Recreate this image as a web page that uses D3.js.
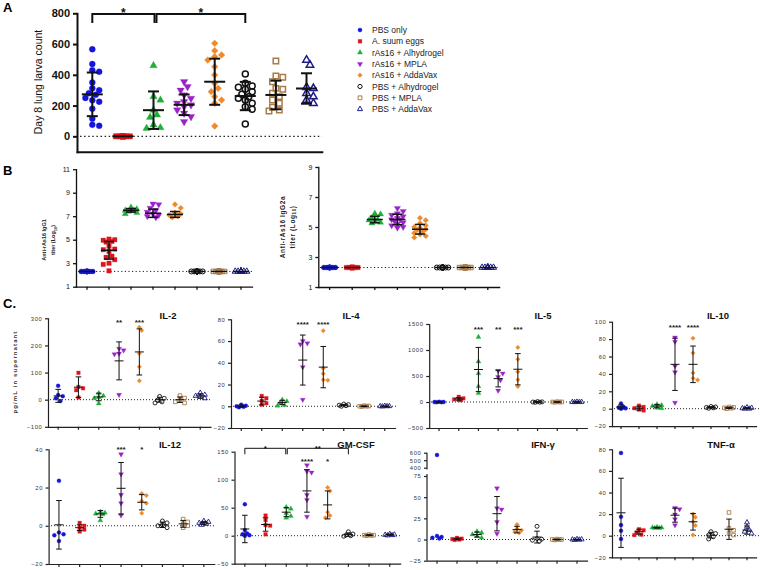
<!DOCTYPE html>
<html><head><meta charset="utf-8">
<script src="https://cdn.jsdelivr.net/npm/d3@7"></script>
<style>body{margin:0;background:#fff} svg{display:block}</style>
</head><body><svg id="c" width="760" height="570"></svg>
<script>
const FONT = "'Liberation Sans', Arial, sans-serif";
const groups = ["PBS only","A. suum eggs","rAs16 + Alhydrogel","rAs16 + MPLA","rAs16 + AddaVax","PBS + Alhydrogel","PBS + MPLA","PBS + AddaVax"];
const colors = ["#1414dc","#e0141c","#1fae3a","#9a22c8","#f0892a","#111111","#a87c48","#1c1c84"];
const shapes = ["circle","square","triangle","triangleDown","diamond","circle","square","triangle"];
const filled = [true,true,true,true,true,false,false,false];

// Panel A: Day 8 lung larva count
const larvaCount = [
  [566,470,430,420,350,312,300,280,270,250,235,225,180,115,75,68],
  [0,0,0,0,0,0,0,0,0,0,0,0,0,0,0],
  [460,258,236,171,139,124,74,56,52],
  [355,323,300,269,247,225,215,204,193,171,150,128,95],
  [605,557,529,518,496,453,399,345,312,290,258,236,215,67],
  [405,345,327,319,306,290,273,258,247,236,215,193,176,80],
  [490,392,384,355,312,306,280,258,236,215,189,171,165],
  [496,464,319,312,280,258,236,215]
];
const larvaMean = [273,0,170,205,355,262,269,311];
const larvaSD = [142,0,122,67,150,92,93,99];
const larvaTicks = [0,200,400,600,800];

// Panel B: antibody titers (log10)
const igg1Titer = [
  [2.3,2.3,2.3,2.3,2.3,2.3,2.3,2.3,2.3,2.3,2.3,2.3,2.3,2.3,2.3],
  [5.05,5.0,4.95,4.85,4.8,4.45,4.2,4.15,4.0,3.6,3.5,3.3,3.0,2.9,2.35],
  [7.75,7.6,7.5,7.5,7.45,7.4,7.3,7.2],
  [8.05,8.0,7.7,7.5,7.35,7.2,7.1,7.0,6.9],
  [8.0,7.7,7.3,7.2,7.1,7.0,6.9],
  [2.3,2.3,2.3,2.3,2.3,2.3,2.3,2.3,2.3,2.3,2.3,2.3,2.3,2.3,2.3],
  [2.3,2.3,2.3,2.3,2.3,2.3,2.3,2.3,2.3,2.3,2.3,2.3,2.3,2.3,2.3],
  [2.3,2.3,2.3,2.3,2.3,2.3,2.3,2.3,2.3,2.3,2.3,2.3,2.3,2.3,2.3]
];
const igg1Mean = [2.3,4.1,7.5,7.25,7.15,2.3,2.3,2.3];
const igg1SD = [0,0.75,0.15,0.35,0.25,0,0,0];
const igg1Ticks = [1,3,5,7,9,11];

const igg2aTiter = [
  [2.3,2.3,2.3,2.3,2.3,2.3,2.3,2.3,2.3,2.3,2.3,2.3,2.3,2.3,2.3],
  [2.3,2.3,2.3,2.3,2.3,2.3,2.3,2.3,2.3,2.3,2.3,2.3,2.3,2.3,2.3],
  [5.9,5.85,5.6,5.5,5.45,5.4,5.3,5.25],
  [6.25,6.05,5.9,5.8,5.7,5.6,5.5,5.5,5.4,5.3,5.2,5.1,5.0,4.95],
  [5.6,5.45,5.25,5.1,5.0,4.95,4.85,4.8,4.7,4.6,4.5,4.4,4.3],
  [2.3,2.3,2.3,2.3,2.3,2.3,2.3,2.3,2.3,2.3,2.3,2.3,2.3,2.3,2.3],
  [2.3,2.3,2.3,2.3,2.3,2.3,2.3,2.3,2.3,2.3,2.3,2.3,2.3,2.3,2.3],
  [2.3,2.3,2.3,2.3,2.3,2.3,2.3,2.3,2.3,2.3,2.3,2.3,2.3,2.3,2.3]
];
const igg2aMean = [2.3,2.3,5.5,5.5,4.85,2.3,2.3,2.3];
const igg2aSD = [0,0,0.22,0.35,0.32,0,0,0];
const igg2aTicks = [1,3,5,7,9];

// Panel C: cytokines (pg/mL)
const il2 = [[51,17,13,5,-5],[99,47,42,35,8],[24,14,9,5,-14],[188,182,170,168,18],[267,255,170,121,70],[12,5,-2,-8,-12],[15,6,-2,-8,-12],[25,18,14,10,5]];
const il2Mean = [14,46,10,143,176,0,0,14];
const il2SD = [24,38,14,70,85,9,10,8];
const il4 = [[1.5,0.5,0,-0.5,-1],[9.5,7.4,5,2.8,1.5],[6,4.5,3,1,0.5],[60,58,57,36,6],[69.5,35,30,24.3,24],[2,1.5,1,0.5,0],[0.5,0.2,0,-0.3,0],[0.3,0.1,0,-0.2,0]];
const il4Mean = [0.1,4.75,3.5,42.5,36,1,0,0];
const il4SD = [1,3.5,2,23,19,0.7,0.3,0.2];
const il5 = [[5,2,0,-3,-5],[100,70,50,40,35],[1250,780,550,300,170],[600,550,480,420,220],[1050,820,580,430,300],[8,3,0,-3,-6],[6,2,0,-2,-5],[4,2,0,-2,-4]];
const il5Mean = [0,60,625,450,630,0,0,0];
const il5SD = [4,25,425,160,300,5,4,3];
const il10 = [[6,2.3,1.5,0.4,0],[3.5,2,0.5,-1,-2],[5,4,3,1,0.5],[82,77,49,42,7],[81,64,41,35,33],[2.5,2,1.5,1,0.5],[2,1.5,1,0.5,0],[1.5,1,0.5,0,0]];
const il10Mean = [2,0.6,3,51,51,1.5,1,0.6];
const il10SD = [2.4,2.2,1.9,30,21,0.8,0.8,0.6];
const il12 = [[23.5,-3.5,-4.5,-5,-8],[1.5,0,-1,-2,-3],[7.2,6.8,6.3,6,2.8],[37.4,27,16.2,11.8,5.5],[16.9,15.8,13,11.8,6.6],[2.5,1.5,0.5,0,-1],[3.5,2,1,0,-1],[2.5,2,1.5,1,0.5]];
const il12Mean = [0.5,-1,6.2,19.6,12.3,0.5,1,1.5];
const il12SD = [12.7,1.5,1.8,13.5,4,1.4,1.8,0.8];
const gmcsf = [[56,10,4,2.4,1,0],[36,28,19,18,2.4],[51,48,40,35,32],[126,115,113,73,64,34],[86,80,42,36,32],[7,3,1,0,-1],[2,1,1,0.5,0],[3,2,1.5,1,0.5]];
const gmcsfMean = [12,20,42,80,55,2,1,2];
const gmcsfSD = [24.5,12,8,38,25,3,0.8,1];
const ifng = [[570,4.3,3,2,1.2],[2,1,0.5,0,-0.5],[9.5,8,6,4,2],[60.5,37,35.5,20.7,7],[17.6,13,11,9,8],[15.6,1.2,0.4,-0.8,-2],[0.5,0,0,0,-0.5],[0.5,0.2,0,-0.2,-0.5]];
const ifngMean = [null,0.6,5.9,30.5,11.7,2.9,0,0];
const ifngSD = [null,1,3,20.3,3.9,7,0.4,0.4];
const tnfa = [[76.6,17.5,9.8,4.6,-3],[6,5,3,1,0.6],[8,7.5,7.5,7,7],[25.8,24.6,19.7,15.4,9.8],[20,17,13,9.5,0.6],[3.7,2,0.6,-1,-3],[21.5,6.8,5,2,0.6],[12.3,8.3,5.2,3.7,2]];
const tnfaMean = [21.2,3.7,7.4,19,12.9,0.5,6,5.2];
const tnfaSD = [32,2.3,0.4,6.5,7.7,2.6,9.4,3.8];

const svg = d3.select("#c");

function symPath(shape, s) {
  const m = {
    circle: [d3.symbolCircle, Math.PI*s*s],
    square: [d3.symbolSquare, (1.8*s)**2],
    triangle: [d3.symbolTriangle, 2.7*s*s],
    triangleDown: [d3.symbolTriangle, 2.7*s*s],
    diamond: [d3.symbolSquare, (1.6*s)**2]
  }[shape];
  return d3.symbol().type(m[0]).size(m[1])();
}
function rot(shape){ return shape==="triangleDown"?180:(shape==="diamond"?45:0); }
function drawMarker(g, gi, x, y, s, sw) {
  g.append("path").attr("d", symPath(shapes[gi], s))
   .attr("transform", `translate(${x},${y}) rotate(${rot(shapes[gi])})`)
   .attr("fill", filled[gi] ? colors[gi] : "none")
   .attr("stroke", colors[gi]).attr("stroke-width", filled[gi] ? 0.3 : sw);
}
function swarm(ys, r, maxOff) {
  const order = d3.range(ys.length).sort((a,b)=>ys[a]-ys[b]);
  const placed = [], xs = new Array(ys.length);
  const step = r*1.15;
  for (const i of order) {
    let best = null, bestCand = 0, bestScore = -Infinity;
    for (let k=0; k<=30 && best===null; k++) {
      const cands = k===0 ? [0] : [k*step, -k*step];
      for (const dx of cands) {
        if (Math.abs(dx) > maxOff) continue;
        let minD = Infinity;
        for (const p of placed) { const d = Math.hypot(p.x-dx, p.y-ys[i]); if (d<minD) minD=d; }
        if (minD >= 2*r*0.95) { best = dx; break; }
        if (minD > bestScore + 0.01) { bestScore = minD; bestCand = dx; }
      }
    }
    if (best===null) best = bestCand;
    xs[i] = best; placed.push({x:best, y:ys[i]});
  }
  return xs;
}

function panel(c) {
  const g = svg.append("g");
  const x = d3.scaleBand().domain(d3.range(8)).range([c.x0, c.x0 + 8*c.w]);
  const cx = i => x(i) + x.bandwidth()/2;
  const y = c.y;
  const yBot = y(c.yMin), yTop = y(c.yMax);
  // dotted baseline
  g.append("line").attr("x1", c.dot[0]).attr("x2", c.dot[1]).attr("y1", y(c.base)).attr("y2", y(c.base))
    .attr("stroke", "#222").attr("stroke-width", c.dotW).attr("stroke-dasharray", c.dash);
  // points
  c.data.forEach((vals, gi) => {
    const ys = vals.map(v => y(v));
    const offs = swarm(ys, c.r, c.maxOff);
    ys.forEach((py, k) => drawMarker(g, gi, cx(gi)+offs[k], py, c.r, c.msw));
  });
  // mean +/- SD
  c.mean.forEach((m, gi) => {
    if (m == null) return;
    const sd = c.sd[gi], X = cx(gi);
    let L = [[X-c.mw, y(m), X+c.mw, y(m)]];
    if (sd > 0) L = L.concat([[X, y(m-sd), X, y(m+sd)], [X-c.cw, y(m+sd), X+c.cw, y(m+sd)], [X-c.cw, y(m-sd), X+c.cw, y(m-sd)]]);
    L.forEach(l => g.append("line").attr("x1",l[0]).attr("y1",l[1]).attr("x2",l[2]).attr("y2",l[3])
      .attr("stroke","#111").attr("stroke-width",c.ebw));
  });
  // y axis
  const ya = d3.axisLeft(y).tickValues(c.ticks).tickSize(c.tick).tickSizeOuter(0).tickPadding(c.pad).tickFormat(d3.format("d"));
  const yg = g.append("g").attr("transform", `translate(${c.x0},0)`).call(ya)
    .attr("font-family", FONT).attr("font-size", c.fs).attr("font-weight", c.fw);
  yg.selectAll("line").attr("stroke", c.axc).attr("stroke-width", c.aw);
  yg.select(".domain").attr("stroke", c.axc).attr("stroke-width", c.aw).attr("stroke-linecap","square");
  yg.selectAll("text").attr("fill", c.txc).attr("letter-spacing", c.ls || 0);
  if (c.breakAt) {
    yg.select(".domain").remove();
    yg.append("line").attr("x1",0).attr("x2",0).attr("y1",yTop).attr("y2",c.breakAt[0]).attr("stroke",c.axc).attr("stroke-width",c.aw);
    yg.append("line").attr("x1",0).attr("x2",0).attr("y1",c.breakAt[1]).attr("y2",yBot).attr("stroke",c.axc).attr("stroke-width",c.aw);
  }
  // x axis
  const xa = d3.axisBottom(x).tickSize(c.xtick).tickSizeOuter(0).tickFormat("");
  const xg = g.append("g").attr("transform", `translate(0,${yBot})`).call(xa);
  xg.selectAll("line").attr("stroke", c.axc).attr("stroke-width", c.aw);
  xg.select(".domain").attr("stroke", c.axc).attr("stroke-width", c.aw).attr("stroke-linecap","square");
  // stars
  (c.stars || []).forEach(s => {
    g.append("text").attr("x", cx(s[0])).attr("y", c.starY).attr("text-anchor","middle")
      .attr("font-family", FONT).attr("font-size", c.starFs).attr("font-weight","bold").attr("fill","#222").text(s[1]);
  });
  // brackets
  (c.brackets || []).forEach(b => {
    const x1 = cx(b.from) + (b.d1||0), x2 = cx(b.to) + (b.d2||0);
    g.append("path").attr("d", `M${x1},${b.y+b.h}V${b.y}H${x2}V${b.y+b.h}`)
      .attr("fill","none").attr("stroke","#111").attr("stroke-width", b.w);
    g.append("text").attr("x", (x1+x2)/2).attr("y", b.ty).attr("text-anchor","middle")
      .attr("font-family", FONT).attr("font-size", b.fs).attr("font-weight","bold").attr("fill","#111").text(b.t);
  });
  if (c.title) {
    g.append("text").attr("x", c.title[1]).attr("y", c.title[2]).attr("text-anchor","middle")
      .attr("font-family", FONT).attr("font-size", 9.5).attr("font-weight","bold").attr("fill","#111").text(c.title[0]);
  }
  return g;
}

// ---------- Panel A ----------
panel({
  x0: 77, w: 30.6, y: d3.scaleLinear().domain([-100,800]).range([151.7,13.3]), yMin: -100, yMax: 800,
  ticks: larvaTicks, tick: 4, pad: 3, fs: 11, fw: "bold", axc: "#111", txc: "#111", aw: 2, xtick: 0,
  data: larvaCount, mean: larvaMean, sd: larvaSD, r: 3, msw: 1.5, maxOff: 9, mw: 10.5, cw: 5.5, ebw: 2,
  base: 0, dot: [80, 322], dotW: 1.2, dash: "1.5,2.6",
  brackets: [
    {from:0, to:2, y:14, h:9, w:2, t:"*", ty:17, fs:12, d2:1},
    {from:2, to:5, y:14, h:9, w:2, t:"*", ty:17, fs:12, d1:3}
  ]
});
svg.append("text").attr("transform","translate(42,82) rotate(-90)").attr("text-anchor","middle")
  .attr("font-family", FONT).attr("font-size", 10.5).attr("fill","#111").text("Day 8 lung larva count");
svg.append("text").attr("x",3).attr("y",12).attr("font-family",FONT).attr("font-size",13).attr("font-weight","bold").text("A");

// Legend
const leg = svg.append("g");
groups.forEach((name, i) => {
  const yy = 30 + 11.3*i;
  drawMarker(leg, i, 360, yy, 2.1, 1);
  leg.append("text").attr("x", 372).attr("y", yy+3).attr("font-family",FONT).attr("font-size",8.5).attr("fill","#222").text(name);
});

// ---------- Panel B ----------
svg.append("text").attr("x",3).attr("y",175).attr("font-family",FONT).attr("font-size",13).attr("font-weight","bold").text("B");
panel({
  x0: 76, w: 22, y: d3.scaleLinear().domain([1,11]).range([286.7,169.2]), yMin: 1, yMax: 11,
  ticks: igg1Ticks, tick: 3, pad: 3, fs: 7, fw: "normal", axc: "#111", txc: "#111", aw: 1.3, xtick: 3,
  data: igg1Titer, mean: igg1Mean, sd: igg1SD, r: 2.5, msw: 1, maxOff: 7, mw: 8, cw: 5, ebw: 1.5,
  base: 2.3, dot: [78, 252], dotW: 1, dash: "1.2,2.4"
});
const bl = svg.append("text").attr("transform","translate(46,240) rotate(-90)").attr("text-anchor","middle")
  .attr("font-family",FONT).attr("font-size",5.5).attr("font-weight","bold").attr("fill","#222");
bl.append("tspan").attr("x",0).attr("dy",0).text("Anti-rAs16 IgG1");
const bl2 = bl.append("tspan").attr("x",0).attr("dy",9).text("titer (Log");
bl2.append("tspan").attr("font-size",4).attr("dy",1.5).text("10");
bl.append("tspan").attr("dy",-1.5).text(")");

panel({
  x0: 318.3, w: 22.6, y: d3.scaleLinear().domain([1,9]).range([287,167]), yMin: 1, yMax: 9,
  ticks: igg2aTicks, tick: 3, pad: 3, fs: 7, fw: "normal", axc: "#111", txc: "#111", aw: 1.3, xtick: 3,
  data: igg2aTiter, mean: igg2aMean, sd: igg2aSD, r: 2.5, msw: 1, maxOff: 7, mw: 8, cw: 5, ebw: 1.5,
  base: 2.3, dot: [320, 499], dotW: 1, dash: "1.2,2.4"
});
const br = svg.append("text").attr("transform","translate(285,227) rotate(-90)").attr("text-anchor","middle")
  .attr("font-family",FONT).attr("font-size",6.5).attr("font-weight","bold").attr("fill","#222").attr("letter-spacing",0.6);
br.append("tspan").attr("x",0).attr("dy",0).text("Anti-rAs16 IgG2a");
const br2 = br.append("tspan").attr("x",0).attr("dy",9.5).text("titer (Log");
br2.append("tspan").attr("font-size",4.5).attr("dy",1.5).text("10");
br.append("tspan").attr("dy",-1.5).text(")");

// ---------- Panel C ----------
svg.append("text").attr("x",3).attr("y",308).attr("font-family",FONT).attr("font-size",13).attr("font-weight","bold").text("C.");
svg.append("text").attr("transform","translate(17,372) rotate(-90)").attr("text-anchor","middle")
  .attr("font-family",FONT).attr("font-size",6).attr("font-weight","bold").attr("fill","#333").attr("letter-spacing",1.1)
  .text("pg/mL in supernatant");

const cBase = { tick: 3, pad: 2.5, fs: 5.8, fw: "normal", axc: "#222", txc: "#333", aw: 1.2, xtick: 3, ls: 0.7,
  r: 2, msw: 0.9, maxOff: 5, mw: 4.5, cw: 2.8, ebw: 1, base: 0, dotW: 1, dash: "1,2", starFs: 8 };

panel(Object.assign({}, cBase, {
  x0: 48, w: 20.3, y: d3.scaleLinear().domain([-100,300]).range([426.8,318.3]), yMin: -100, yMax: 300,
  ticks: [-100,0,100,200,300], data: il2, mean: il2Mean, sd: il2SD, dot: [50, 212],
  stars: [[3,"**"],[4,"***"]], starY: 325, title: ["IL-2", 168, 319]
}));
panel(Object.assign({}, cBase, {
  x0: 231, w: 20.5, y: d3.scaleLinear().domain([-20,80]).range([428,319.3]), yMin: -20, yMax: 80,
  ticks: [-20,0,20,40,60,80], data: il4, mean: il4Mean, sd: il4SD, dot: [233, 397],
  stars: [[3,"****"],[4,"****"]], starY: 326.5, title: ["IL-4", 351, 319]
}));
panel(Object.assign({}, cBase, {
  x0: 429.2, w: 19.7, y: d3.scaleLinear().domain([-500,1500]).range([428,324]), yMin: -500, yMax: 1500,
  ticks: [-500,0,500,1000,1500], data: il5, mean: il5Mean, sd: il5SD, dot: [431, 590],
  stars: [[2,"***"],[3,"**"],[4,"***"]], starY: 332, title: ["IL-5", 543, 319]
}));
panel(Object.assign({}, cBase, {
  x0: 612, w: 18, y: d3.scaleLinear().domain([-20,100]).range([426.1,321.7]), yMin: -20, yMax: 100,
  ticks: [-20,0,20,40,60,80,100], data: il10, mean: il10Mean, sd: il10SD, dot: [614, 760],
  stars: [[3,"****"],[4,"****"]], starY: 330, title: ["IL-10", 718, 319]
}));
panel(Object.assign({}, cBase, {
  x0: 48.6, w: 20.7, y: d3.scaleLinear().domain([-20,40]).range([564,449.3]), yMin: -20, yMax: 40,
  ticks: [-20,0,20,40], data: il12, mean: il12Mean, sd: il12SD, dot: [51, 216],
  stars: [[3,"***"],[4,"*"]], starY: 452, title: ["IL-12", 170, 448]
}));
panel(Object.assign({}, cBase, {
  x0: 234.5, w: 20.7, y: d3.scaleLinear().domain([-50,150]).range([563.7,451.7]), yMin: -50, yMax: 150,
  ticks: [-50,0,50,100,150], data: gmcsf, mean: gmcsfMean, sd: gmcsfSD, dot: [237, 402],
  stars: [[3,"****"],[4,"*"]], starY: 463.5, title: ["GM-CSF", 356, 448],
  brackets: [
    {from:0, to:2, y:448.3, h:6, w:1, t:"*", ty:451, fs:8, d2:-0.5},
    {from:2, to:5, y:448.3, h:6, w:1, t:"**", ty:451, fs:8, d1:1}
  ]
}));
panel(Object.assign({}, cBase, {
  x0: 427, w: 20, y: d3.scaleLinear().domain([-25,75,400,600]).range([560.7,476,467.7,452.7]), yMin: -25, yMax: 600,
  ticks: [-25,0,25,50,75,400,500,600], data: ifng, mean: ifngMean, sd: ifngSD, dot: [430, 590],
  breakAt: [469.5, 474], title: ["IFN-γ", 543, 448]
}));
panel(Object.assign({}, cBase, {
  x0: 612, w: 18, y: d3.scaleLinear().domain([-20,80]).range([557.3,449.3]), yMin: -20, yMax: 80,
  ticks: [-20,0,20,40,60,80], data: tnfa, mean: tnfaMean, sd: tnfaSD, dot: [614, 760],
  title: ["TNF-α", 721, 448]
}));
</script></body></html>
